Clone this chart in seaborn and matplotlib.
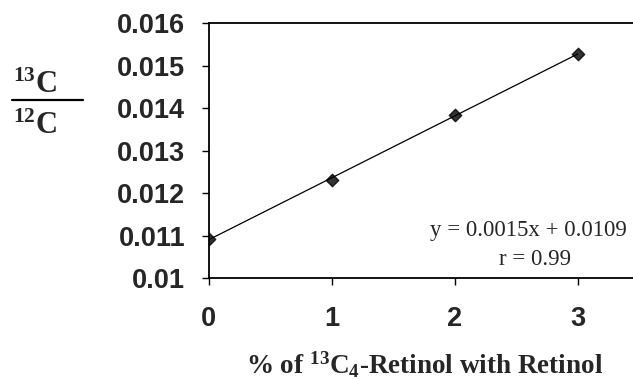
import numpy as np
import pandas as pd
import seaborn as sns
import matplotlib.pyplot as plt

# values
pct_labeled = [0, 1, 2, 3]
ratio_13c_12c = [0.01093, 0.01232, 0.01383, 0.01528]
y_ticks = [0.01, 0.011, 0.012, 0.013, 0.014, 0.015, 0.016]
y_tick_labels = ["0.01", "0.011", "0.012", "0.013", "0.014", "0.015", "0.016"]
x_ticks = [0, 1, 2, 3]

df = pd.DataFrame({"pct": pct_labeled, "ratio": ratio_13c_12c})

sns.set_style("ticks")
plt.rcParams["mathtext.fontset"] = "custom"
plt.rcParams["mathtext.rm"] = "Liberation Serif"
plt.rcParams["mathtext.bf"] = "Liberation Serif:bold"

fig = plt.figure(figsize=(6.33, 3.8), dpi=100)
ax = fig.add_axes([0.33, 0.268, 0.67, 0.671])

sns.regplot(x="pct", y="ratio", data=df, ci=None, marker="D", color="black",
            scatter_kws={"s": 40}, line_kws={"linewidth": 0.9}, ax=ax)

ax.set_xlim(0, 3.45)
ax.set_ylim(0.01, 0.016)
ax.set_xticks(x_ticks)
ax.set_yticks(y_ticks)
ax.set_yticklabels(y_tick_labels)
for lab in ax.get_xticklabels() + ax.get_yticklabels():
    lab.set_fontfamily("Liberation Sans")
    lab.set_fontweight("bold")
    lab.set_fontsize(19.5)
ax.tick_params(axis="both", direction="out", length=5, width=1, color="black")
ax.tick_params(axis="x", pad=15)
ax.tick_params(axis="y", pad=12)
for side in ["left", "bottom", "top"]:
    ax.spines[side].set_linewidth(1.3)
    ax.spines[side].set_color("black")
ax.spines["right"].set_visible(False)
ax.set_xlabel("")
ax.set_ylabel("")

fig.text(0.67, 0.04, r"% of $\mathbf{^{13}C_4}$-Retinol with Retinol",
         ha="center", va="center", family="Liberation Serif", fontweight="bold", fontsize=19.5)

# y label as a fraction
fig.text(0.02, 0.774, r"$\mathbf{^{13}C}$", ha="left", va="center",
         family="Liberation Serif", fontweight="bold", fontsize=22)
fig.text(0.02, 0.668, r"$\mathbf{^{12}C}$", ha="left", va="center",
         family="Liberation Serif", fontweight="bold", fontsize=22)
fig.add_artist(plt.Line2D([0.019, 0.131], [0.737, 0.737], color="black", linewidth=1.6))

ax.text(3.40, 0.01113, "y = 0.0015x + 0.0109", ha="right", va="center",
        family="Liberation Serif", fontsize=16.5)
ax.text(2.65, 0.01043, "r = 0.99", ha="center", va="center",
        family="Liberation Serif", fontsize=16.5)

plt.savefig("out.png", dpi=100)
plt.close()
